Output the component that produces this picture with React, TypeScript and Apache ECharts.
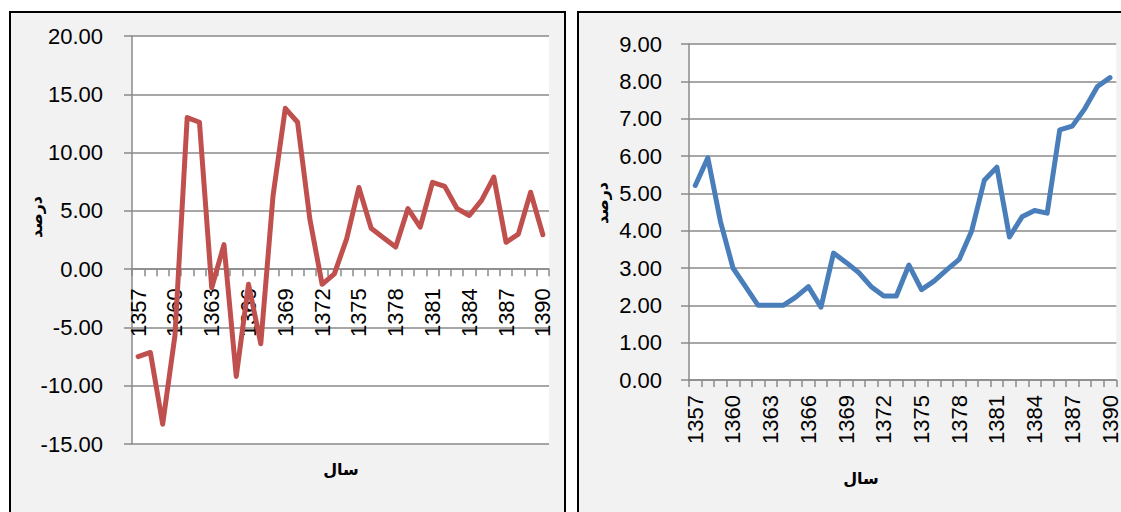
import React, { useEffect, useRef } from "react";
import * as echarts from "echarts";

const years = [
  "1357", "1358", "1359", "1360", "1361", "1362", "1363", "1364", "1365", "1366",
  "1367", "1368", "1369", "1370", "1371", "1372", "1373", "1374", "1375", "1376",
  "1377", "1378", "1379", "1380", "1381", "1382", "1383", "1384", "1385", "1386",
  "1387", "1388", "1389", "1390",
];

const leftValues = [
  -7.5, -7.15, -13.3, -5.7, 13.0, 12.6, -1.6, 2.1, -9.2, -1.3,
  -6.4, 6.3, 13.8, 12.6, 4.3, -1.3, -0.4, 2.6, 7.0, 3.5,
  2.7, 1.9, 5.2, 3.6, 7.45, 7.1, 5.2, 4.6, 5.9, 7.9,
  2.3, 3.0, 6.6, 2.95,
];

const rightValues = [
  5.21, 5.95, 4.25, 3.0, 2.5, 2.0, 2.0, 2.0, 2.22, 2.5,
  1.95, 3.4, 3.15, 2.88, 2.5, 2.25, 2.25, 3.08, 2.42, 2.65,
  2.95, 3.23, 4.0, 5.35, 5.7, 3.83, 4.37, 4.54, 4.47, 6.7,
  6.8, 7.27, 7.86, 8.1,
];

const leftTicks = { min: -15, max: 20, step: 5 };
const rightTicks = { min: 0, max: 9, step: 1 };

const xTitle = "سال";
const yTitle = "درصد";

const GRID_GRAY = "#8a8a8a";
const NUM_FONT = "Liberation Sans";
const FA_FONT = "DejaVu Sans";

const LEFT_TOP = 36;
const LEFT_HEIGHT = 408;

export default function App() {
  const ref = useRef<HTMLDivElement>(null);

  useEffect(() => {
    if (!ref.current) return;
    const chart = echarts.init(ref.current, undefined, { renderer: "svg" });

    const yLabel = (margin: number) => ({
      color: "#000",
      fontSize: 22,
      fontFamily: NUM_FONT,
      margin,
      formatter: (v: number) => v.toFixed(2),
    });

    // distance from bottom of left grid to the zero line
    const zeroOffset =
      (LEFT_HEIGHT * (0 - leftTicks.min)) / (leftTicks.max - leftTicks.min);

    const xAxisCommon = (gridIndex: number, margin: number, offset: number) => ({
      type: "category" as const,
      gridIndex,
      data: years,
      boundaryGap: true,
      position: "bottom" as const,
      offset,
      axisLine: { show: true, onZero: false, lineStyle: { color: GRID_GRAY, width: 1.5 } },
      axisTick: { show: true, interval: 0, length: 7, inside: false, lineStyle: { color: GRID_GRAY, width: 1.5 } },
      axisLabel: {
        interval: 2,
        rotate: 90,
        color: "#000",
        fontSize: 22,
        fontFamily: NUM_FONT,
        margin,
      },
      splitLine: { show: false },
    });

    const titleText = (x: number, y: number, text: string, size: number, rot = 0) => ({
      type: "text",
      z: 100,
      x,
      y,
      rotation: rot,
      style: {
        text,
        fill: "#000",
        font: `bold ${size}px "${FA_FONT}"`,
        align: "center",
        verticalAlign: "middle",
      },
    });

    chart.setOption({
      animation: false,
      backgroundColor: "#ffffff",
      graphic: [
        {
          type: "rect",
          z: -10,
          shape: { x: 10, y: 12, width: 555, height: 520 },
          style: { fill: "#f2f2f2", stroke: "#000", lineWidth: 2 },
        },
        {
          type: "rect",
          z: -10,
          shape: { x: 578, y: 12, width: 600, height: 520 },
          style: { fill: "#f2f2f2", stroke: "#000", lineWidth: 2 },
        },
        titleText(341, 469, xTitle, 16),
        titleText(861, 478, xTitle, 16),
        titleText(36, 217, yTitle, 16, Math.PI / 2),
        titleText(602, 203, yTitle, 16, Math.PI / 2),
      ],
      grid: [
        {
          left: 132,
          top: LEFT_TOP,
          width: 417,
          height: LEFT_HEIGHT,
          show: true,
          backgroundColor: "#ffffff",
          borderWidth: 0,
          containLabel: false,
        },
        {
          left: 689,
          top: 44,
          width: 428,
          height: 336,
          show: true,
          backgroundColor: "#ffffff",
          borderWidth: 0,
          containLabel: false,
        },
      ],
      xAxis: [xAxisCommon(0, 19, -zeroOffset), xAxisCommon(1, 15, 0)],
      yAxis: [
        {
          type: "value",
          gridIndex: 0,
          min: leftTicks.min,
          max: leftTicks.max,
          interval: leftTicks.step,
          axisLine: { show: true, lineStyle: { color: GRID_GRAY, width: 1.5 } },
          axisTick: { show: true, length: 8, lineStyle: { color: GRID_GRAY, width: 1.5 } },
          axisLabel: yLabel(29),
          splitLine: { show: true, lineStyle: { color: GRID_GRAY, width: 1.5 } },
        },
        {
          type: "value",
          gridIndex: 1,
          min: rightTicks.min,
          max: rightTicks.max,
          interval: rightTicks.step,
          axisLine: { show: true, lineStyle: { color: GRID_GRAY, width: 1.5 } },
          axisTick: { show: true, length: 8, lineStyle: { color: GRID_GRAY, width: 1.5 } },
          axisLabel: yLabel(27),
          splitLine: { show: true, lineStyle: { color: GRID_GRAY, width: 1.5 } },
        },
      ],
      series: [
        {
          type: "line",
          xAxisIndex: 0,
          yAxisIndex: 0,
          data: leftValues,
          symbol: "none",
          lineStyle: { color: "#c0504d", width: 5, cap: "round", join: "round" },
          z: 5,
        },
        {
          type: "line",
          xAxisIndex: 1,
          yAxisIndex: 1,
          data: rightValues,
          symbol: "none",
          lineStyle: { color: "#4a7ebb", width: 5, cap: "round", join: "round" },
          z: 5,
        },
      ],
    });

    return () => chart.dispose();
  }, []);

  return (
    <div
      ref={ref}
      style={{ position: "absolute", left: 0, top: 0, width: 1121, height: 512 }}
    />
  );
}
